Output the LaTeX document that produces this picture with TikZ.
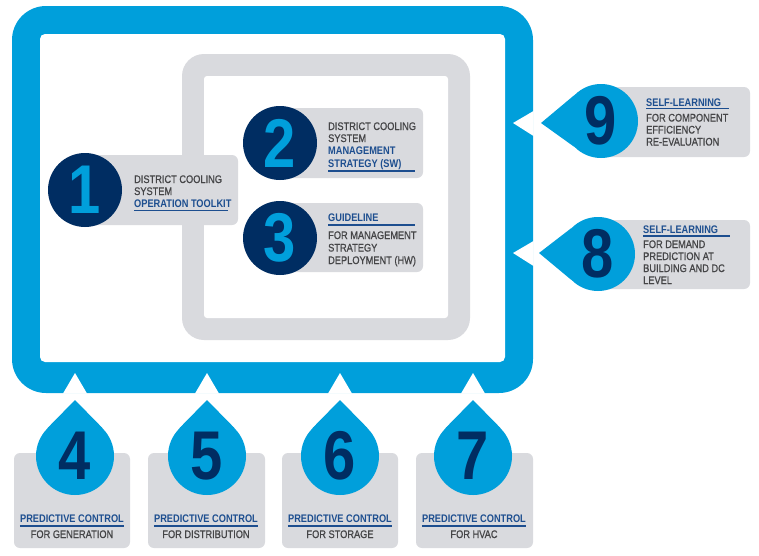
\documentclass[tikz,border=0pt]{standalone}
\usepackage{fontspec}
\setmainfont{Liberation Sans}[FakeStretch=0.84]
\newfontfamily\medfont{Liberation Sans}[FakeStretch=0.84, FakeBold=0.8]
\definecolor{cblue}{HTML}{009FDB}
\definecolor{cnavy}{HTML}{002D62}
\definecolor{cgray}{HTML}{D9DADE}
\definecolor{ctext}{HTML}{454547}
\definecolor{ctitle}{HTML}{1D4E8F}
\tikzset{
  bubble/.style={circle, inner sep=0pt, minimum size=74pt, font=\fontsize{69}{69}\selectfont\bfseries},
  navybub/.style={bubble, fill=cnavy, text=cblue},
  bluebub/.style={bubble, fill=cblue, text=cnavy},
  lbl/.style={anchor=base west, inner sep=0pt, font=\medfont\fontsize{11}{12}\selectfont, text=ctext},
  ttl/.style={anchor=base west, inner sep=0pt, font=\fontsize{11}{12}\selectfont\bfseries, text=ctitle},
  lblc/.style={lbl, anchor=base},
  ttlc/.style={ttl, anchor=base},
  uline/.style={draw=ctitle, line width=1.1pt},
  graybox/.style={fill=cgray, rounded corners=6pt},
  notch/.style={fill=white},
  tail/.style={fill=cblue}
}
\begin{document}
\begin{tikzpicture}[x=1pt, y=-1pt]
\useasboundingbox (0,0) rectangle (759,555);
% blue frame
\fill[cblue, rounded corners=34pt] (12,6) rectangle (533,393);
\fill[white, rounded corners=5pt] (40,34) rectangle (505,362);
% gray frame
\fill[cgray, rounded corners=22pt] (182,54) rectangle (470,340);
\fill[white, rounded corners=3pt] (204,76) rectangle (448,318);
% notches in blue frame
\foreach \x in {75,207,340,473} {
  \fill[notch] (\x-12,393.5) -- (\x,373) -- (\x+12,393.5) -- cycle;
}
\fill[notch] (533.5,111) -- (513,123) -- (533.5,136) -- cycle;
\fill[notch] (533.5,241) -- (513,253) -- (533.5,266) -- cycle;

% boxes 1-3
\fill[graybox] (85,155) rectangle (238,225);
\fill[graybox] (280,108) rectangle (423,178);
\fill[graybox] (280,203) rectangle (423,272);
\node[navybub] (c1) at (85,190) {1};
\node[navybub] (c2) at (280,143) {2};
\node[navybub] (c3) at (280,238) {3};

\node[lbl] (t1a) at (134,183) {DISTRICT COOLING};
\node[lbl] (t1b) at (134,195) {SYSTEM};
\node[ttl] (t1c) at (134,207) {OPERATION TOOLKIT};
\draw[uline] ([yshift=-3.5pt]t1c.base west) -- ++(94,0);

\node[lbl] (t2a) at (328,130) {DISTRICT COOLING};
\node[lbl] (t2b) at (328,142) {SYSTEM};
\node[ttl] (t2c) at (328,154.5) {MANAGEMENT};
\node[ttl] (t2d) at (328,167) {STRATEGY (SW)};
\draw[uline] ([yshift=-4pt]t2d.base west) -- ++(87,0);

\node[ttl] (t3a) at (328,221) {GUIDELINE};
\draw[uline] ([yshift=-4pt]t3a.base west) -- ++(87,0);
\node[lbl] (t3b) at (328,239) {FOR MANAGEMENT};
\node[lbl] (t3c) at (328,251.5) {STRATEGY};
\node[lbl] (t3d) at (328,264) {DEPLOYMENT (HW)};

% right bubbles 9 and 8
\fill[graybox] (601,87) rectangle (750,157);
\fill[graybox] (598,220) rectangle (750,289);
\node[bluebub] (c9) at (601,121) {9};
\node[bluebub] (c8) at (598,254) {8};
\coordinate (p9) at (541,123);
\coordinate (p8) at (539,253);
\fill[tail] (p9) -- (c9.136) -- (c9.224) -- cycle;
\fill[tail] (p8) -- (c8.136) -- (c8.224) -- cycle;

\node[ttl] (t9a) at (646,106) {SELF-LEARNING};
\draw[uline] ([yshift=-2.8pt]t9a.base west) -- ++(83,0);
\node[lbl] (t9b) at (646,121.5) {FOR COMPONENT};
\node[lbl] (t9c) at (646,133.5) {EFFICIENCY};
\node[lbl] (t9d) at (646,145.5) {RE-EVALUATION};

\node[ttl] (t8a) at (643,233) {SELF-LEARNING};
\draw[uline] ([yshift=-3pt]t8a.base west) -- ++(87,0);
\node[lbl] (t8b) at (643,248) {FOR DEMAND};
\node[lbl] (t8c) at (643,260) {PREDICTION AT};
\node[lbl] (t8d) at (643,272) {BUILDING AND DC};
\node[lbl] (t8e) at (643,284) {LEVEL};

% bottom bubbles 4-7
\fill[graybox] (14,453) rectangle (130,548);
\fill[graybox] (148,453) rectangle (265,548);
\fill[graybox] (282,453) rectangle (398,548);
\fill[graybox] (416,453) rectangle (533,548);
\node[bluebub, minimum size=78pt] (c4) at (75,456) {4};
\node[bluebub, minimum size=78pt] (c5) at (207,456) {5};
\node[bluebub, minimum size=78pt] (c6) at (340,456) {6};
\node[bluebub, minimum size=78pt] (c7) at (473,456) {7};
\coordinate (p4) at (75,400);
\coordinate (p5) at (207,400);
\coordinate (p6) at (340,400);
\coordinate (p7) at (473,400);
\fill[tail] (p4) -- (c4.45) -- (c4.135) -- cycle;
\fill[tail] (p5) -- (c5.45) -- (c5.135) -- cycle;
\fill[tail] (p6) -- (c6.45) -- (c6.135) -- cycle;
\fill[tail] (p7) -- (c7.45) -- (c7.135) -- cycle;

\node[ttlc] (t4a) at (72,522) {PREDICTIVE CONTROL};
\node[lblc] (t4b) at (72,538) {FOR GENERATION};
\node[ttlc] (t5a) at (206,522) {PREDICTIVE CONTROL};
\node[lblc] (t5b) at (206,538) {FOR DISTRIBUTION};
\node[ttlc] (t6a) at (340,522) {PREDICTIVE CONTROL};
\node[lblc] (t6b) at (340,538) {FOR STORAGE};
\node[ttlc] (t7a) at (474,522) {PREDICTIVE CONTROL};
\node[lblc] (t7b) at (474,538) {FOR HVAC};
\foreach \n in {t4a,t5a,t6a,t7a} {
  \draw[uline] ([yshift=-4pt]\n.base west) -- ([yshift=-4pt]\n.base east);
}
\end{tikzpicture}
\end{document}
